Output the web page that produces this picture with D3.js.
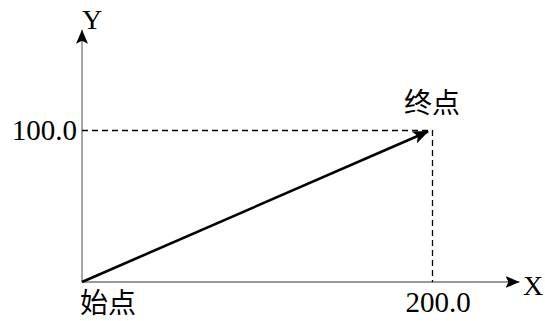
<!DOCTYPE html>
<html><head><meta charset="utf-8">
<script src="https://cdn.jsdelivr.net/npm/d3@7"></script>
<style>body{margin:0;background:#fff}</style>
</head><body>
<svg id="c" width="545" height="321"></svg>
<script>
const startPoint = [0, 0];
const endPoint = [200, 100];
const xTicks = [200];
const yTicks = [100];
const xTickLabels = ["200.0"];
const yTickLabels = ["100.0"];
const pointLabels = ["始点", "终点"];
const axisLabels = ["X", "Y"];

const svg = d3.select("#c");
const x = d3.scaleLinear().domain([0, 200]).range([82, 432]);
const y = d3.scaleLinear().domain([0, 100]).range([282, 130]);
const latin = "'Liberation Serif','Times New Roman',serif";
const cjk = "'Noto Sans CJK SC','Liberation Serif',serif";

const defs = svg.append("defs");
defs.append("marker").attr("id","ah").attr("viewBox","0 0 14 12").attr("refX",14).attr("refY",6)
  .attr("markerWidth",14).attr("markerHeight",12).attr("markerUnits","userSpaceOnUse").attr("orient","auto")
  .append("path").attr("d","M0,0 L14,6 L0,12 L3,6 Z").attr("fill","#000");
defs.append("marker").attr("id","ah2").attr("viewBox","0 0 16 13").attr("refX",15).attr("refY",6.5)
  .attr("markerWidth",16).attr("markerHeight",13).attr("markerUnits","userSpaceOnUse").attr("orient","auto")
  .append("path").attr("d","M0,0 L16,6.5 L0,13 L4,6.5 Z").attr("fill","#000");

// axes
const x0 = x(0), y0 = y(0);
svg.append("line").attr("x1",x0).attr("y1",y0).attr("x2",x(250)).attr("y2",y0)
  .attr("stroke","#777").attr("stroke-width",1.3).attr("marker-end","url(#ah)");
svg.append("line").attr("x1",x0).attr("y1",y0).attr("x2",x0).attr("y2",y(166))
  .attr("stroke","#777").attr("stroke-width",1.3).attr("marker-end","url(#ah)");

// dashed guides
svg.append("line").attr("x1",x0).attr("y1",y(endPoint[1])+0.5).attr("x2",x(endPoint[0])).attr("y2",y(endPoint[1])+0.5)
  .attr("stroke","#000").attr("stroke-width",1.3).attr("stroke-dasharray","6,4");
svg.append("line").attr("x1",x(endPoint[0])+0.5).attr("y1",y(endPoint[1])).attr("x2",x(endPoint[0])+0.5).attr("y2",y0)
  .attr("stroke","#000").attr("stroke-width",1.3).attr("stroke-dasharray","6,4");

// vector
svg.append("line").attr("x1",x(startPoint[0])).attr("y1",y(startPoint[1]))
  .attr("x2",x(endPoint[0]) - 4).attr("y2",y(endPoint[1]) + 1.5)
  .attr("stroke","#000").attr("stroke-width",2.6).attr("marker-end","url(#ah2)");

// tick labels
svg.selectAll(".yt").data(yTicks).enter().append("text")
  .attr("x",77).attr("y",d=>y(d)+10).attr("text-anchor","end")
  .attr("font-family",latin).attr("font-size",29).text((d,i)=>yTickLabels[i]);
svg.selectAll(".xt").data(xTicks).enter().append("text")
  .attr("x",d=>x(d)+6).attr("y",312).attr("text-anchor","middle")
  .attr("font-family",latin).attr("font-size",29).text((d,i)=>xTickLabels[i]);

// axis labels
svg.append("text").attr("x",523).attr("y",295).attr("font-family",latin).attr("font-size",28).text(axisLabels[0]);
svg.append("text").attr("x",92).attr("y",29).attr("text-anchor","middle").attr("font-family",latin).attr("font-size",28).text(axisLabels[1]);

// point labels
svg.append("text").attr("x",x(startPoint[0]) - 2).attr("y",313).attr("font-family",cjk).attr("font-size",28).text(pointLabels[0]);
svg.append("text").attr("x",x(endPoint[0])).attr("y",113).attr("text-anchor","middle").attr("font-family",cjk).attr("font-size",28).text(pointLabels[1]);
</script>
</body></html>
